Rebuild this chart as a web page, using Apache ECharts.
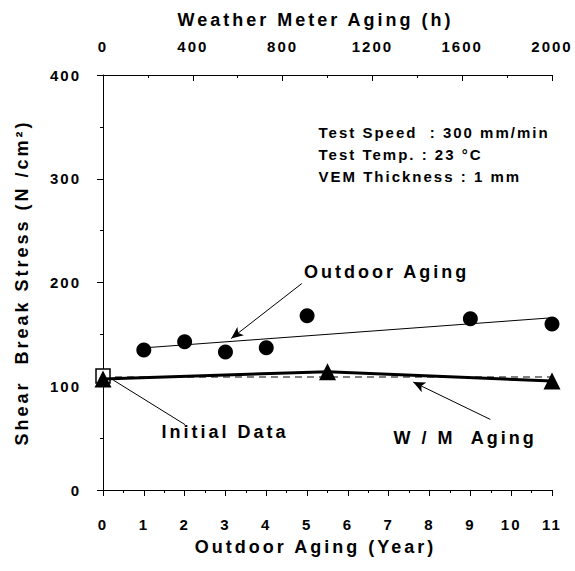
<!DOCTYPE html>
<html lang="en">
<head>
    <meta charset="UTF-8">
    <title>Shear Break Stress</title>
    <style>
        html, body { margin: 0; padding: 0; background: #fff; }
        /* the old chart has very wide letter spacing everywhere */
        #container text { letter-spacing: 2px; }
        #container text[style*="18px"] { letter-spacing: 3px; }
    </style>
</head>
<body>
<div id="container" style="width:575px;height:571px"></div>
<script type="text/javascript" src="https://cdn.jsdelivr.net/npm/echarts@6/dist/echarts.min.js"></script>
<script type="text/javascript">
    // outdoor aging (years) -> shear break stress (N/cm2)
    var outdoorYears = [1, 2, 3, 4, 5, 9, 11];
    var outdoorStress = [135, 143, 133, 137, 168, 165, 160];
    // trend line of outdoor aging
    var trendYears = [1, 11];
    var trendStress = [137, 166];
    // weather meter aging (hours) -> stress
    var wmHours = [0, 1000, 2000];
    var wmStress = [107, 114, 105];
    // initial data
    var initialYear = 0;
    var initialStress = 110;
    var initialLevel = 109;

    var yTicks = [0, 100, 200, 300, 400];
    var yearTicks = [0, 11];
    var hourTicks = [0, 2000];

    // annotation texts and arrows (data coords: year, stress)
    var notes = [
        { text: 'Outdoor Aging', at: [6.95, 210] },
        { text: 'Initial Data', at: [2.99, 56] },
        { text: 'W / M  Aging', at: [8.87, 50] }
    ];
    var arrows = [
        [[4.87, 199], [3.14, 146], 'arrow'],
        [[2.01, 63], [0.25, 106], 'none'],
        [[9.49, 68], [7.6, 104], 'arrow']
    ];
    var infoLines = ['Test Speed  : 300 mm/min', 'Test Temp. : 23 \u00b0C', 'VEM Thickness : 1 mm'];
    var infoAt = [5.28, 323];

    var dom = document.getElementById('container');
    var myChart = echarts.init(dom, null, { renderer: 'svg' });

    var font = 'Liberation Sans, Arial, sans-serif';
    var black = '#000';

    function pairs(xs, ys) {
        return xs.map(function (x, i) { return [x, ys[i]]; });
    }

    var axisCommon = {
        type: 'value',
        axisLine: { show: true, onZero: false, lineStyle: { color: black, width: 1 } },
        splitLine: { show: false },
        axisLabel: {
            color: black, fontSize: 15, fontWeight: 'bold', fontFamily: font,
            formatter: function (v) { return String(v); }
        },
        nameTextStyle: { color: black, fontSize: 18, fontWeight: 'bold', fontFamily: font }
    };

    var option = {
        animation: false,
        backgroundColor: '#fff',
        grid: { left: 103, right: 23, top: 75, bottom: 81 },
        xAxis: [
            echarts.util.merge({
                position: 'bottom',
                min: yearTicks[0], max: yearTicks[1], interval: 1,
                name: 'Outdoor Aging (Year)',
                nameLocation: 'middle', nameGap: 48,
                nameTextStyle: { padding: [0, 24, 0, 0] },
                axisTick: { show: true, inside: false, length: 6, lineStyle: { color: black } },
                minorTick: { show: true, splitNumber: 2, length: 3, lineStyle: { color: black } },
                axisLabel: { margin: 27 }
            }, axisCommon, false),
            echarts.util.merge({
                position: 'top',
                min: hourTicks[0], max: hourTicks[1], interval: 400,
                name: 'Weather Meter Aging (h)',
                nameLocation: 'middle', nameGap: 46,
                nameTextStyle: { padding: [0, 24, 0, 0] },
                axisTick: { show: true, inside: true, length: 6, lineStyle: { color: black } },
                minorTick: { show: true, splitNumber: 2, length: 3, lineStyle: { color: black } },
                axisLabel: { margin: 21 }
            }, axisCommon, false)
        ],
        yAxis: echarts.util.merge({
            min: yTicks[0], max: yTicks[yTicks.length - 1], interval: 100,
            name: 'Shear  Break Stress (N /cm\u00b2)',
            nameLocation: 'middle', nameGap: 72, nameRotate: 90,
            axisTick: { show: true, inside: false, length: 6, lineStyle: { color: black } },
            minorTick: { show: true, splitNumber: 2, length: 3, lineStyle: { color: black } },
            axisLabel: { margin: 22 }
        }, axisCommon, false),
        series: [
            {
                name: 'Initial level',
                type: 'line',
                data: [[yearTicks[0], initialLevel], [yearTicks[1], initialLevel]],
                symbol: 'none',
                lineStyle: { color: '#808080', width: 2, type: [7, 5] },
                z: 1
            },
            {
                name: 'Initial Data',
                type: 'scatter',
                data: [[initialYear, initialStress]],
                symbol: 'rect',
                symbolSize: 14,
                itemStyle: { color: '#fff', borderColor: black, borderWidth: 1.5, opacity: 1 },
                z: 2
            },
            {
                name: 'Outdoor trend',
                type: 'line',
                data: pairs(trendYears, trendStress),
                symbol: 'none',
                lineStyle: { color: black, width: 1 },
                z: 2
            },
            {
                name: 'Outdoor Aging',
                type: 'scatter',
                data: pairs(outdoorYears, outdoorStress),
                symbol: 'circle',
                symbolSize: 15,
                itemStyle: { color: black, opacity: 1 },
                z: 3
            },
            {
                name: 'W/M Aging',
                type: 'line',
                xAxisIndex: 1,
                data: pairs(wmHours, wmStress),
                symbol: 'triangle',
                symbolSize: 17,
                showAllSymbol: true,
                lineStyle: { color: black, width: 3 },
                itemStyle: { color: black },
                z: 4
            },
            {
                name: 'Notes',
                type: 'scatter',
                symbolSize: 0,
                silent: true,
                itemStyle: { opacity: 1 },
                data: notes.map(function (n) { return { value: n.at, name: n.text }; })
                    .concat([{
                        value: infoAt,
                        name: infoLines.join('\n'),
                        label: { position: 'right', distance: 0, align: 'left', fontSize: 15, lineHeight: 22 }
                    }]),
                label: {
                    show: true,
                    position: 'inside',
                    color: black,
                    opacity: 1,
                    fontSize: 18,
                    fontWeight: 'bold',
                    fontFamily: font,
                    formatter: function (p) { return p.name; }
                },
                markLine: {
                    silent: true,
                    symbolSize: [8, 12],
                    label: { show: false },
                    lineStyle: { color: black, width: 1, type: 'solid', opacity: 1 },
                    data: arrows.map(function (a) {
                        return [{ coord: a[0], symbol: 'none' }, { coord: a[1], symbol: a[2] }];
                    })
                }
            }
        ]
    };

    myChart.setOption(option);
</script>
</body>
</html>
